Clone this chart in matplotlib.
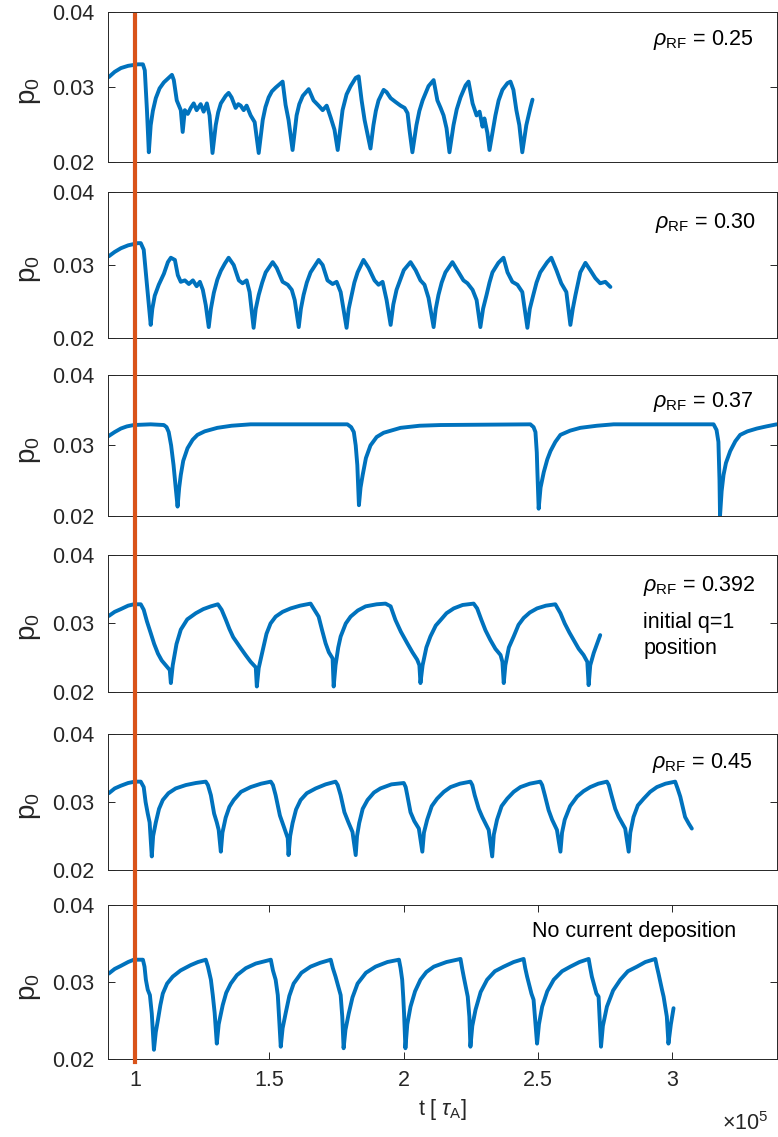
"""Stacked p0(t) traces for several rho_RF deposition radii."""

import matplotlib
matplotlib.use("Agg")
import matplotlib.pyplot as plt
from matplotlib.lines import Line2D

plt.rcParams["font.family"] = ["Liberation Sans", "DejaVu Sans"]
plt.rcParams["mathtext.fontset"] = "custom"
plt.rcParams["mathtext.rm"] = "Liberation Sans"
plt.rcParams["mathtext.it"] = "Liberation Sans:italic"

BLUE = "#0072BD"
ORANGE = "#D95319"
AXIS_COLOR = "#262626"

# (t in units of 1e5 tau_A, p0)
RF_025 = [
    (0.903, 0.0313), (0.925, 0.0320), (0.948, 0.0325), (0.975, 0.0328), (1.011, 0.0330), (1.030, 0.0330),
    (1.037, 0.0322), (1.045, 0.0269), (1.052, 0.0213), (1.059, 0.0249), (1.067, 0.0268), (1.078, 0.0285),
    (1.092, 0.0298), (1.108, 0.0306), (1.126, 0.0312), (1.138, 0.0316), (1.145, 0.0309), (1.156, 0.0282),
    (1.171, 0.0269), (1.178, 0.0240), (1.186, 0.0269), (1.197, 0.0264), (1.208, 0.0272), (1.219, 0.0278),
    (1.230, 0.0269), (1.245, 0.0277), (1.256, 0.0267), (1.268, 0.0278), (1.278, 0.0262), (1.289, 0.0212),
    (1.301, 0.0249), (1.310, 0.0266), (1.320, 0.0278), (1.338, 0.0288), (1.349, 0.0292), (1.360, 0.0286),
    (1.375, 0.0272), (1.385, 0.0277), (1.394, 0.0275), (1.405, 0.0269), (1.416, 0.0275), (1.431, 0.0262),
    (1.446, 0.0253), (1.461, 0.0212), (1.476, 0.0256), (1.486, 0.0273), (1.498, 0.0286), (1.510, 0.0294),
    (1.524, 0.0299), (1.537, 0.0303), (1.550, 0.0307), (1.561, 0.0276), (1.572, 0.0256), (1.587, 0.0216),
    (1.602, 0.0262), (1.612, 0.0277), (1.625, 0.0288), (1.647, 0.0297), (1.665, 0.0282), (1.684, 0.0275),
    (1.699, 0.0269), (1.714, 0.0275), (1.729, 0.0259), (1.743, 0.0243), (1.755, 0.0216), (1.773, 0.0269),
    (1.788, 0.0290), (1.803, 0.0301), (1.822, 0.0312), (1.833, 0.0314), (1.844, 0.0282), (1.855, 0.0256),
    (1.877, 0.0218), (1.888, 0.0249), (1.897, 0.0268), (1.907, 0.0282), (1.926, 0.0296), (1.937, 0.0293),
    (1.952, 0.0285), (1.970, 0.0280), (1.989, 0.0275), (2.004, 0.0272), (2.015, 0.0265), (2.022, 0.0243),
    (2.033, 0.0213), (2.048, 0.0249), (2.059, 0.0268), (2.071, 0.0282), (2.093, 0.0301), (2.112, 0.0309),
    (2.126, 0.0282), (2.138, 0.0272), (2.149, 0.0262), (2.160, 0.0245), (2.171, 0.0213), (2.186, 0.0249),
    (2.198, 0.0270), (2.212, 0.0286), (2.231, 0.0302), (2.242, 0.0307), (2.257, 0.0278), (2.272, 0.0262),
    (2.283, 0.0267), (2.294, 0.0247), (2.301, 0.0258), (2.312, 0.0239), (2.320, 0.0216), (2.342, 0.0262),
    (2.354, 0.0282), (2.368, 0.0296), (2.387, 0.0305), (2.398, 0.0307), (2.409, 0.0296), (2.420, 0.0269),
    (2.431, 0.0249), (2.442, 0.0213), (2.457, 0.0249), (2.472, 0.0272), (2.480, 0.0283),
]

RF_030 = [
    (0.903, 0.0312), (0.925, 0.0318), (0.948, 0.0323), (0.975, 0.0327), (1.011, 0.0330), (1.022, 0.0330),
    (1.033, 0.0321), (1.045, 0.0273), (1.059, 0.0218), (1.065, 0.0240), (1.074, 0.0258), (1.089, 0.0273),
    (1.108, 0.0288), (1.123, 0.0304), (1.134, 0.0310), (1.149, 0.0307), (1.160, 0.0286), (1.171, 0.0277),
    (1.186, 0.0279), (1.201, 0.0274), (1.216, 0.0279), (1.230, 0.0271), (1.242, 0.0277), (1.253, 0.0266),
    (1.264, 0.0245), (1.275, 0.0215), (1.283, 0.0240), (1.294, 0.0262), (1.307, 0.0280), (1.320, 0.0292),
    (1.335, 0.0302), (1.349, 0.0310), (1.368, 0.0300), (1.387, 0.0279), (1.401, 0.0275), (1.416, 0.0279),
    (1.427, 0.0263), (1.442, 0.0214), (1.450, 0.0240), (1.461, 0.0259), (1.474, 0.0276), (1.487, 0.0290),
    (1.513, 0.0304), (1.528, 0.0296), (1.550, 0.0277), (1.569, 0.0273), (1.584, 0.0266), (1.595, 0.0252),
    (1.610, 0.0215), (1.618, 0.0240), (1.628, 0.0259), (1.640, 0.0276), (1.654, 0.0290), (1.684, 0.0307),
    (1.699, 0.0300), (1.717, 0.0279), (1.736, 0.0274), (1.751, 0.0277), (1.766, 0.0263), (1.788, 0.0214),
    (1.796, 0.0240), (1.807, 0.0259), (1.817, 0.0276), (1.829, 0.0290), (1.851, 0.0307), (1.870, 0.0296),
    (1.892, 0.0279), (1.907, 0.0273), (1.922, 0.0277), (1.937, 0.0252), (1.952, 0.0218), (1.962, 0.0246),
    (1.974, 0.0266), (2.001, 0.0293), (2.026, 0.0304), (2.045, 0.0293), (2.063, 0.0279), (2.078, 0.0273),
    (2.093, 0.0255), (2.112, 0.0215), (2.120, 0.0240), (2.130, 0.0259), (2.142, 0.0276), (2.156, 0.0290),
    (2.182, 0.0304), (2.205, 0.0290), (2.223, 0.0279), (2.238, 0.0275), (2.257, 0.0266), (2.272, 0.0252),
    (2.286, 0.0215), (2.296, 0.0240), (2.309, 0.0259), (2.320, 0.0276), (2.331, 0.0290), (2.353, 0.0303),
    (2.372, 0.0310), (2.387, 0.0290), (2.405, 0.0277), (2.424, 0.0273), (2.442, 0.0263), (2.461, 0.0214),
    (2.470, 0.0240), (2.483, 0.0259), (2.495, 0.0276), (2.509, 0.0290), (2.535, 0.0304), (2.550, 0.0310),
    (2.569, 0.0293), (2.587, 0.0275), (2.606, 0.0263), (2.621, 0.0218), (2.630, 0.0240), (2.640, 0.0259),
    (2.658, 0.0290), (2.677, 0.0303), (2.695, 0.0293), (2.714, 0.0282), (2.732, 0.0275), (2.751, 0.0277),
    (2.770, 0.0270),
]

RF_037 = [
    (0.901, 0.0313), (0.925, 0.0319), (0.948, 0.0324), (0.970, 0.0327), (0.996, 0.0329), (1.059, 0.0330),
    (1.108, 0.0329), (1.118, 0.0326), (1.126, 0.0319), (1.135, 0.0300), (1.144, 0.0272), (1.152, 0.0240),
    (1.159, 0.0213), (1.165, 0.0240), (1.171, 0.0258), (1.180, 0.0278), (1.196, 0.0296), (1.215, 0.0308),
    (1.233, 0.0315), (1.260, 0.0320), (1.307, 0.0325), (1.360, 0.0328), (1.431, 0.0330), (1.791, 0.0330),
    (1.805, 0.0326), (1.815, 0.0319), (1.822, 0.0300), (1.828, 0.0272), (1.834, 0.0215), (1.840, 0.0240),
    (1.848, 0.0258), (1.860, 0.0282), (1.877, 0.0300), (1.900, 0.0312), (1.926, 0.0318), (1.989, 0.0325),
    (2.060, 0.0328), (2.138, 0.0329), (2.472, 0.0330), (2.484, 0.0326), (2.491, 0.0319), (2.496, 0.0290),
    (2.498, 0.0265), (2.503, 0.0210), (2.510, 0.0240), (2.522, 0.0262), (2.535, 0.0280), (2.547, 0.0292),
    (2.565, 0.0305), (2.584, 0.0315), (2.620, 0.0321), (2.658, 0.0325), (2.720, 0.0328), (2.782, 0.0330),
    (3.154, 0.0330), (3.165, 0.0322), (3.172, 0.0305), (3.176, 0.0251), (3.178, 0.0200), (3.184, 0.0235),
    (3.191, 0.0258), (3.200, 0.0275), (3.216, 0.0292), (3.235, 0.0306), (3.253, 0.0315), (3.280, 0.0320),
    (3.315, 0.0324), (3.350, 0.0327), (3.389, 0.0330),
]

RF_0392 = [
    (0.903, 0.0311), (0.925, 0.0317), (0.948, 0.0321), (0.975, 0.0326), (0.996, 0.0328), (1.022, 0.0328),
    (1.033, 0.0320), (1.045, 0.0303), (1.059, 0.0286), (1.072, 0.0270), (1.086, 0.0256), (1.100, 0.0246),
    (1.115, 0.0239), (1.130, 0.0232), (1.134, 0.0213), (1.141, 0.0239), (1.155, 0.0270), (1.171, 0.0291),
    (1.195, 0.0306), (1.227, 0.0315), (1.255, 0.0321), (1.283, 0.0325), (1.309, 0.0328), (1.323, 0.0320),
    (1.338, 0.0306), (1.352, 0.0292), (1.366, 0.0280), (1.380, 0.0272), (1.394, 0.0264), (1.412, 0.0254),
    (1.431, 0.0244), (1.450, 0.0236), (1.454, 0.0208), (1.461, 0.0235), (1.476, 0.0261), (1.490, 0.0285),
    (1.505, 0.0300), (1.524, 0.0310), (1.550, 0.0317), (1.580, 0.0322), (1.615, 0.0326), (1.654, 0.0329),
    (1.665, 0.0322), (1.684, 0.0310), (1.697, 0.0290), (1.710, 0.0271), (1.722, 0.0258), (1.736, 0.0249),
    (1.740, 0.0208), (1.747, 0.0239), (1.757, 0.0265), (1.766, 0.0281), (1.785, 0.0300), (1.803, 0.0310),
    (1.830, 0.0319), (1.859, 0.0325), (1.900, 0.0328), (1.933, 0.0329), (1.952, 0.0325), (1.970, 0.0305),
    (1.990, 0.0288), (2.014, 0.0271), (2.033, 0.0258), (2.051, 0.0247), (2.059, 0.0239), (2.063, 0.0213),
    (2.071, 0.0239), (2.085, 0.0265), (2.100, 0.0281), (2.120, 0.0297), (2.138, 0.0305), (2.160, 0.0315),
    (2.187, 0.0322), (2.220, 0.0327), (2.261, 0.0329), (2.274, 0.0322), (2.290, 0.0305), (2.305, 0.0290),
    (2.323, 0.0276), (2.342, 0.0263), (2.361, 0.0254), (2.368, 0.0244), (2.373, 0.0213), (2.379, 0.0239),
    (2.392, 0.0265), (2.410, 0.0281), (2.428, 0.0298), (2.447, 0.0308), (2.470, 0.0316), (2.497, 0.0322),
    (2.530, 0.0326), (2.565, 0.0328), (2.584, 0.0315), (2.600, 0.0300), (2.617, 0.0287), (2.633, 0.0276),
    (2.652, 0.0263), (2.670, 0.0254), (2.684, 0.0244), (2.689, 0.0210), (2.695, 0.0239), (2.708, 0.0257),
    (2.732, 0.0283),
]

RF_045 = [
    (0.903, 0.0313), (0.925, 0.0320), (0.948, 0.0324), (0.975, 0.0328), (1.000, 0.0330), (1.022, 0.0330),
    (1.033, 0.0322), (1.040, 0.0300), (1.048, 0.0283), (1.055, 0.0270), (1.063, 0.0220), (1.068, 0.0250),
    (1.078, 0.0270), (1.090, 0.0290), (1.104, 0.0303), (1.125, 0.0313), (1.152, 0.0320), (1.190, 0.0325),
    (1.227, 0.0328), (1.264, 0.0330), (1.272, 0.0325), (1.283, 0.0310), (1.295, 0.0283), (1.305, 0.0270),
    (1.312, 0.0259), (1.320, 0.0227), (1.326, 0.0255), (1.338, 0.0277), (1.352, 0.0293), (1.368, 0.0303),
    (1.395, 0.0315), (1.431, 0.0322), (1.470, 0.0327), (1.506, 0.0330), (1.514, 0.0325), (1.524, 0.0310),
    (1.540, 0.0280), (1.556, 0.0262), (1.569, 0.0247), (1.572, 0.0222), (1.578, 0.0250), (1.587, 0.0269),
    (1.600, 0.0289), (1.617, 0.0303), (1.640, 0.0313), (1.673, 0.0320), (1.710, 0.0326), (1.747, 0.0330),
    (1.755, 0.0325), (1.766, 0.0310), (1.780, 0.0285), (1.795, 0.0270), (1.810, 0.0256), (1.822, 0.0222),
    (1.827, 0.0250), (1.835, 0.0269), (1.848, 0.0290), (1.866, 0.0303), (1.890, 0.0314), (1.914, 0.0320),
    (1.955, 0.0326), (2.001, 0.0328), (2.008, 0.0322), (2.014, 0.0310), (2.026, 0.0285), (2.040, 0.0272),
    (2.057, 0.0261), (2.070, 0.0227), (2.076, 0.0255), (2.088, 0.0274), (2.105, 0.0294), (2.125, 0.0305),
    (2.150, 0.0315), (2.175, 0.0322), (2.210, 0.0327), (2.249, 0.0330), (2.256, 0.0325), (2.265, 0.0310),
    (2.280, 0.0290), (2.293, 0.0278), (2.317, 0.0259), (2.330, 0.0220), (2.336, 0.0252), (2.348, 0.0274),
    (2.365, 0.0294), (2.386, 0.0305), (2.410, 0.0315), (2.435, 0.0322), (2.470, 0.0327), (2.509, 0.0330),
    (2.516, 0.0325), (2.526, 0.0310), (2.540, 0.0288), (2.553, 0.0274), (2.571, 0.0259), (2.584, 0.0227),
    (2.590, 0.0255), (2.600, 0.0274), (2.620, 0.0294), (2.646, 0.0308), (2.670, 0.0316), (2.695, 0.0322),
    (2.725, 0.0327), (2.757, 0.0330), (2.764, 0.0325), (2.774, 0.0310), (2.788, 0.0290), (2.801, 0.0278),
    (2.825, 0.0261), (2.838, 0.0227), (2.844, 0.0255), (2.856, 0.0278), (2.872, 0.0295), (2.894, 0.0305),
    (2.918, 0.0315), (2.943, 0.0322), (2.975, 0.0327), (3.011, 0.0330), (3.020, 0.0320), (3.030, 0.0308),
    (3.048, 0.0278), (3.062, 0.0268), (3.073, 0.0261),
]

NO_DEPOSITION = [
    (0.903, 0.0311), (0.925, 0.0317), (0.948, 0.0321), (0.975, 0.0326), (0.996, 0.0329), (1.030, 0.0329),
    (1.036, 0.0320), (1.041, 0.0303), (1.048, 0.0290), (1.056, 0.0283), (1.063, 0.0259), (1.071, 0.0212),
    (1.078, 0.0235), (1.086, 0.0251), (1.095, 0.0270), (1.104, 0.0285), (1.120, 0.0298), (1.141, 0.0307),
    (1.170, 0.0315), (1.208, 0.0322), (1.235, 0.0326), (1.264, 0.0329), (1.272, 0.0320), (1.283, 0.0303),
    (1.290, 0.0283), (1.297, 0.0260), (1.305, 0.0220), (1.312, 0.0245), (1.327, 0.0270), (1.340, 0.0286),
    (1.357, 0.0298), (1.380, 0.0309), (1.413, 0.0318), (1.450, 0.0324), (1.506, 0.0329), (1.514, 0.0315),
    (1.524, 0.0303), (1.532, 0.0283), (1.536, 0.0259), (1.543, 0.0216), (1.550, 0.0240), (1.561, 0.0259),
    (1.575, 0.0282), (1.591, 0.0298), (1.620, 0.0312), (1.654, 0.0320), (1.690, 0.0325), (1.729, 0.0329),
    (1.737, 0.0318), (1.747, 0.0307), (1.766, 0.0283), (1.772, 0.0255), (1.777, 0.0214), (1.784, 0.0238),
    (1.796, 0.0259), (1.810, 0.0280), (1.829, 0.0298), (1.860, 0.0312), (1.896, 0.0320), (1.940, 0.0326),
    (1.983, 0.0329), (1.989, 0.0318), (1.995, 0.0303), (1.999, 0.0280), (2.002, 0.0259), (2.007, 0.0214),
    (2.014, 0.0245), (2.026, 0.0268), (2.043, 0.0288), (2.063, 0.0303), (2.085, 0.0313), (2.113, 0.0320),
    (2.160, 0.0326), (2.212, 0.0330), (2.218, 0.0318), (2.224, 0.0307), (2.239, 0.0281), (2.245, 0.0255),
    (2.249, 0.0216), (2.256, 0.0243), (2.268, 0.0264), (2.287, 0.0287), (2.311, 0.0303), (2.340, 0.0314),
    (2.373, 0.0320), (2.410, 0.0326), (2.447, 0.0330), (2.453, 0.0318), (2.460, 0.0307), (2.476, 0.0285),
    (2.484, 0.0277), (2.497, 0.0220), (2.504, 0.0245), (2.516, 0.0268), (2.535, 0.0288), (2.559, 0.0303),
    (2.590, 0.0314), (2.621, 0.0320), (2.655, 0.0326), (2.689, 0.0330), (2.695, 0.0318), (2.701, 0.0307),
    (2.718, 0.0285), (2.726, 0.0281), (2.735, 0.0216), (2.742, 0.0243), (2.757, 0.0268), (2.780, 0.0289),
    (2.807, 0.0303), (2.835, 0.0314), (2.869, 0.0320), (2.900, 0.0326), (2.937, 0.0330), (2.943, 0.0320),
    (2.949, 0.0311), (2.962, 0.0290), (2.968, 0.0281), (2.980, 0.0255), (2.986, 0.0220), (2.995, 0.0245),
    (3.005, 0.0266),
]

PANELS = [RF_025, RF_030, RF_037, RF_0392, RF_045, NO_DEPOSITION]
LABELS = [
    [r"$\rho_{\rm RF}$ = 0.25"],
    [r"$\rho_{\rm RF}$ = 0.30"],
    [r"$\rho_{\rm RF}$ = 0.37"],
    [r"$\rho_{\rm RF}$ = 0.392", "initial q=1", "position"],
    [r"$\rho_{\rm RF}$ = 0.45"],
    ["No current deposition"],
]
LABEL_POS = [
    [(0.815, 0.81)],
    [(0.818, 0.79)],
    [(0.815, 0.81)],
    [(0.80, 0.77), (0.80, 0.51), (0.80, 0.32)],
    [(0.813, 0.79)],
    [(0.634, 0.83)],
]
X_TICKS = [1.0, 1.5, 2.0, 2.5, 3.0]
X_TICK_LABELS = ["1", "1.5", "2", "2.5", "3"]
Y_TICKS = [0.02, 0.03, 0.04]
Y_TICK_LABELS = ["0.02", "0.03", "0.04"]
ONSET = 1.0

# axes boxes in figure fraction: (bottom, height)
BOXES = [(0.8575, 0.1322), (0.7027, 0.1284), (0.5464, 0.1237),
         (0.3914, 0.1205), (0.2348, 0.1196), (0.0686, 0.1354)]
LEFT, WIDTH = 0.1388, 0.8599
FONT = 15.5

fig = plt.figure(figsize=(7.78, 11.37), dpi=100)
axes = []
for i, (points, (bottom, height)) in enumerate(zip(PANELS, BOXES)):
    t = [pt[0] for pt in points]
    p = [pt[1] for pt in points]
    ax = fig.add_axes([LEFT, bottom, WIDTH, height])
    ax.plot(t, p, color=BLUE, lw=2.8, solid_joinstyle="round", solid_capstyle="round")
    ax.set_xlim(0.9, 3.39)
    ax.set_ylim(0.02, 0.04)
    ax.set_yticks(Y_TICKS)
    ax.set_yticklabels(Y_TICK_LABELS)
    ax.tick_params(axis="both", direction="in", length=5, width=0.7, colors=AXIS_COLOR,
                   labelsize=FONT, right=True, top=True)
    ax.tick_params(axis="y", pad=10)
    ax.tick_params(axis="x", pad=8)
    if i < len(PANELS) - 1:
        ax.set_xticks([])
    else:
        ax.set_xticks(X_TICKS)
        ax.set_xticklabels(X_TICK_LABELS)
        ax.set_xlabel(r"t [ $\tau_{\rm A}$]", fontsize=FONT, color=AXIS_COLOR, labelpad=4)
    for spine in ax.spines.values():
        spine.set_color(AXIS_COLOR)
        spine.set_linewidth(0.7)
    ax.set_ylabel(r"p$_0$", fontsize=20, color=AXIS_COLOR)
    ax.yaxis.set_label_coords(-0.097, 0.47)
    for text, (x, y) in zip(LABELS[i], LABEL_POS[i]):
        ax.text(x, y, text, transform=ax.transAxes, ha="left", va="center",
                fontsize=FONT, color="black")
    axes.append(ax)

fig.text(0.928, 0.002, r"$\times 10^5$", fontsize=FONT, color=AXIS_COLOR, ha="left", va="bottom")

# vertical marker for current-drive onset spanning all panels
x_fig = fig.transFigure.inverted().transform(axes[0].transData.transform((ONSET, 0.03)))[0]
fig.add_artist(Line2D([x_fig, x_fig], [1 - 1062 / 1137, 1 - 15 / 1137],
                      transform=fig.transFigure, color=ORANGE, lw=3.0, zorder=10))

fig.savefig("out.png", dpi=100)
